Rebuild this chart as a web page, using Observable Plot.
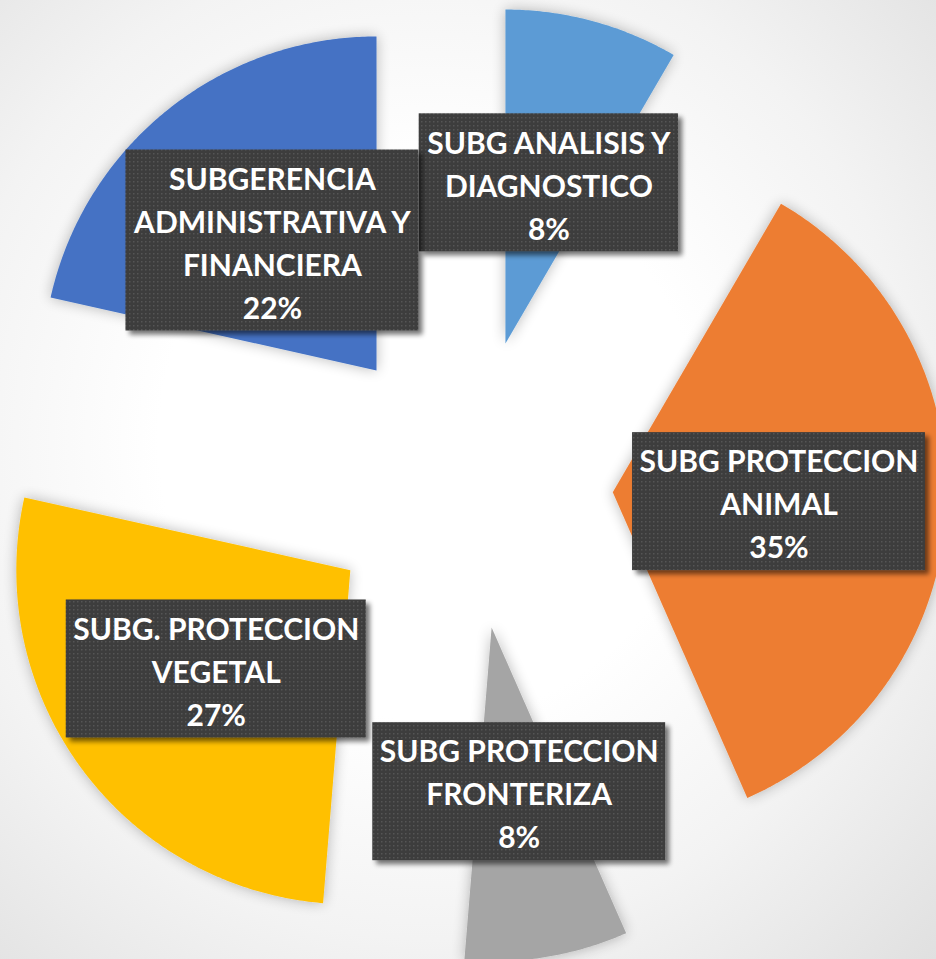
<!DOCTYPE html>
<html><head><meta charset="utf-8">
<script src="https://cdn.jsdelivr.net/npm/d3@7"></script>
<script src="https://cdn.jsdelivr.net/npm/@observablehq/plot@0.6"></script>
<style>html,body{margin:0;padding:0;background:#fff;overflow:hidden}</style>
</head><body><div id="chart"></div>
<script>
// ---- data ----
const categories = [
  "SUBG ANALISIS Y DIAGNOSTICO",
  "SUBG PROTECCION ANIMAL",
  "SUBG PROTECCION FRONTERIZA",
  "SUBG. PROTECCION VEGETAL",
  "SUBGERENCIA ADMINISTRATIVA Y FINANCIERA"
];
const labelLines = [
  ["SUBG ANALISIS Y", "DIAGNOSTICO"],
  ["SUBG PROTECCION", "ANIMAL"],
  ["SUBG PROTECCION", "FRONTERIZA"],
  ["SUBG. PROTECCION", "VEGETAL"],
  ["SUBGERENCIA", "ADMINISTRATIVA Y", "FINANCIERA"]
];
const values = [8.4, 35.0, 7.9, 27.2, 21.5];
const percentLabels = ["8%", "35%", "8%", "27%", "22%"];
const colors = ["#5B9BD5", "#ED7D31", "#A5A5A5", "#FFC000", "#4472C4"];

// ---- layout constants ----
const W = 936, H = 959;
const R = 334, EXPLODE = 145.5, LABEL_R = 312;
const CX = 467, CY = 483.5; // pie centre in pixels
const FONT = 30, LINE_H = 43;
const FONT_FAMILY = "Lato, 'Open Sans', sans-serif";

const arcs = d3.pie().sort(null).value(d => d)(values);

// slice outlines in pie units (y up)
const slicePts = [];
arcs.forEach((a, i) => {
  const mid = (a.startAngle + a.endAngle) / 2;
  const ox = EXPLODE * Math.sin(mid), oy = EXPLODE * Math.cos(mid);
  slicePts.push({cat: categories[i], x: ox, y: oy});
  const n = Math.max(2, Math.ceil((a.endAngle - a.startAngle) / (Math.PI / 360)));
  for (let k = 0; k <= n; k++) {
    const t = a.startAngle + (a.endAngle - a.startAngle) * k / n;
    slicePts.push({cat: categories[i], x: ox + R * Math.sin(t), y: oy + R * Math.cos(t)});
  }
  slicePts.push({cat: categories[i], x: ox, y: oy});
});

// labels
const ctx = document.createElement("canvas").getContext("2d");
ctx.font = `bold ${FONT}px ${FONT_FAMILY}`;
const labels = arcs.map((a, i) => {
  const mid = (a.startAngle + a.endAngle) / 2;
  const lines = [...labelLines[i], percentLabels[i]];
  const w = d3.max(lines, l => ctx.measureText(l).width) + 14;
  const h = lines.length * LINE_H + 9;
  const x = LABEL_R * Math.sin(mid), y = LABEL_R * Math.cos(mid);
  return {cat: categories[i], text: lines.join("\n"), x, y, x1: x - w / 2, x2: x + w / 2, y1: y - h / 2, y2: y + h / 2};
});

const chart = Plot.plot({
  width: W, height: H,
  margin: 0,
  x: {domain: [-CX, W - CX], axis: null},
  y: {domain: [CY - H, CY], axis: null},
  color: {domain: categories, range: colors},
  style: {background: "radial-gradient(ellipse at 46% 46%, #ffffff 38%, #f3f3f3 68%, #e0e0e0 100%)", overflow: "hidden"},
  marks: [
    Plot.line(slicePts, {x: "x", y: "y", z: "cat", fill: "cat", stroke: "none", curve: "linear"}),
    Plot.rect(labels, {x1: "x1", x2: "x2", y1: "y1", y2: "y2", fill: "url(#dots)"}),
    Plot.text(labels, {x: "x", y: "y", text: "text", fill: "white", fontSize: FONT, fontWeight: "bold",
      fontFamily: FONT_FAMILY, lineHeight: LINE_H / FONT})
  ]
});

// defs: pattern + shadows
const ns = "http://www.w3.org/2000/svg";
const defs = document.createElementNS(ns, "defs");
defs.innerHTML = `
  <pattern id="dots" width="4" height="4" patternUnits="userSpaceOnUse">
    <rect width="4" height="4" fill="#3d3d3d"/>
    <rect x="1" y="1" width="1.5" height="1.5" fill="#555555"/>
  </pattern>
  <filter id="glow" x="-20%" y="-20%" width="140%" height="140%">
    <feGaussianBlur in="SourceAlpha" stdDeviation="7"/>
    <feComponentTransfer><feFuncA type="linear" slope="0.28"/></feComponentTransfer>
    <feMerge><feMergeNode/><feMergeNode in="SourceGraphic"/></feMerge>
  </filter>
  <filter id="boxshadow" x="-10%" y="-10%" width="130%" height="130%">
    <feGaussianBlur in="SourceAlpha" stdDeviation="2.5"/>
    <feOffset dx="4" dy="4" result="o"/>
    <feComponentTransfer><feFuncA type="linear" slope="0.55"/></feComponentTransfer>
    <feMerge><feMergeNode/><feMergeNode in="SourceGraphic"/></feMerge>
  </filter>`;
chart.insertBefore(defs, chart.firstChild);
const lineG = chart.querySelector('g[aria-label="line"]');
if (lineG) lineG.querySelectorAll("path").forEach(p => p.setAttribute("filter", "url(#glow)"));
const rectG = chart.querySelector('g[aria-label="rect"]');
if (rectG) rectG.querySelectorAll("rect").forEach(r => r.setAttribute("filter", "url(#boxshadow)"));
document.getElementById("chart").appendChild(chart);
</script>
</body></html>
